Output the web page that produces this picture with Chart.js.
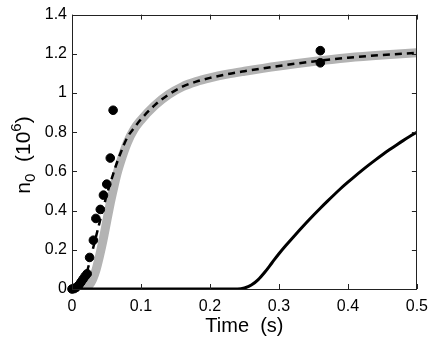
<!DOCTYPE html>
<html>
<head>
<meta charset="utf-8">
<script src="https://cdn.jsdelivr.net/npm/chart.js@4/dist/chart.umd.min.js"></script>
<style>
  html, body { margin: 0; padding: 0; background: #fff; }
  #wrap { width: 436px; height: 338px; }
</style>
</head>
<body>
<div id="wrap"><canvas id="n0Chart" width="436" height="338"></canvas></div>
<script>
// tick labels
const xTicks = [0, 0.1, 0.2, 0.3, 0.4, 0.5];
const yTicks = [0, 0.2, 0.4, 0.6, 0.8, 1, 1.2, 1.4];

// measured points (s, 10^6)
const dataT = [0, 0.003, 0.006, 0.01, 0.013, 0.016, 0.019, 0.022, 0.0255, 0.031, 0.0346, 0.041, 0.0456, 0.0504, 0.0555, 0.0596, 0.36, 0.36];
const dataN = [0, 0.002, 0.008, 0.02, 0.035, 0.05, 0.065, 0.078, 0.161, 0.249, 0.36, 0.406, 0.479, 0.535, 0.668, 0.912, 1.216, 1.154];

// dashed model curve
const fitT = [0, 0.005, 0.01, 0.015, 0.02, 0.025, 0.03, 0.035, 0.04, 0.045, 0.05, 0.055, 0.06, 0.065, 0.07, 0.08, 0.09, 0.1, 0.12, 0.14, 0.16, 0.18, 0.2, 0.225, 0.25, 0.3, 0.35, 0.4, 0.45, 0.5];
const fitN = [0, 0.004, 0.015, 0.037, 0.07, 0.13, 0.2, 0.27, 0.34, 0.41, 0.475, 0.535, 0.59, 0.643, 0.69, 0.772, 0.822, 0.866, 0.938, 0.992, 1.032, 1.058, 1.077, 1.096, 1.111, 1.138, 1.161, 1.18, 1.194, 1.205];

// grey band curve
const bandT = [0, 0.015, 0.02, 0.025, 0.03, 0.035, 0.04, 0.045, 0.05, 0.055, 0.06, 0.065, 0.07, 0.08, 0.09, 0.1, 0.12, 0.14, 0.16, 0.18, 0.2, 0.225, 0.25, 0.3, 0.35, 0.4, 0.45, 0.5];
const bandN = [0, 0, 0.005, 0.02, 0.05, 0.1, 0.17, 0.25, 0.34, 0.43, 0.51, 0.585, 0.645, 0.745, 0.815, 0.862, 0.936, 0.992, 1.032, 1.058, 1.077, 1.096, 1.111, 1.138, 1.161, 1.18, 1.194, 1.205];

// delayed solid curve
const lateT = [0, 0.22, 0.24, 0.25, 0.26, 0.27, 0.28, 0.29, 0.3, 0.31, 0.32, 0.33, 0.34, 0.35, 0.36, 0.37, 0.38, 0.39, 0.4, 0.41, 0.42, 0.43, 0.44, 0.45, 0.46, 0.47, 0.48, 0.49, 0.5];
const lateN = [0, 0, 0, 0.005, 0.02, 0.048, 0.088, 0.134, 0.18, 0.222, 0.262, 0.301, 0.339, 0.376, 0.412, 0.447, 0.481, 0.514, 0.545, 0.575, 0.604, 0.632, 0.659, 0.685, 0.71, 0.734, 0.757, 0.779, 0.8];

const pts = (ts, ns) => ts.map((t, i) => ({ x: t, y: ns[i] }));

const AXIS_FONT = 'Liberation Sans, Arial, Helvetica, sans-serif';

// draws the box, inward ticks and axis titles
const frame = {
    id: 'frame',
    afterDraw(chart) {
        const ctx = chart.ctx;
        const a = chart.chartArea;
        const xs = chart.scales.x, ys = chart.scales.y;
        ctx.save();
        ctx.strokeStyle = '#222';
        ctx.lineWidth = 1;
        ctx.strokeRect(Math.round(a.left) + 0.5, Math.round(a.top) + 0.5,
            Math.round(a.right - a.left) - 1, Math.round(a.bottom - a.top));
        ctx.beginPath();
        xTicks.forEach(v => {
            const px = Math.round(xs.getPixelForValue(v)) + 0.5;
            ctx.moveTo(px, a.bottom); ctx.lineTo(px, a.bottom - 5);
            ctx.moveTo(px, a.top); ctx.lineTo(px, a.top + 5);
        });
        yTicks.forEach(v => {
            const py = Math.round(ys.getPixelForValue(v)) + 0.5;
            ctx.moveTo(a.left, py); ctx.lineTo(a.left + 5, py);
            ctx.moveTo(a.right, py); ctx.lineTo(a.right - 5, py);
        });
        ctx.stroke();

        ctx.fillStyle = '#000';
        ctx.font = '20px ' + AXIS_FONT;
        ctx.textAlign = 'center';
        ctx.textBaseline = 'middle';
        ctx.fillText('Time  (s)', (a.left + a.right) / 2, 326);

        // y title: n_0  (10^6), rotated
        ctx.translate(23, 155);
        ctx.rotate(-Math.PI / 2);
        const big = '21px ' + AXIS_FONT, small = '15px ' + AXIS_FONT;
        const parts = [
            { s: 'n', f: big, dy: 0 },
            { s: '0', f: small, dy: 5 },
            { s: '  (10', f: big, dy: 0 },
            { s: '6', f: small, dy: -9 },
            { s: ')', f: big, dy: 0 }
        ];
        let w = 0;
        parts.forEach(p => { ctx.font = p.f; w += ctx.measureText(p.s).width; });
        let x = -w / 2;
        ctx.textAlign = 'left';
        ctx.textBaseline = 'alphabetic';
        parts.forEach(p => {
            ctx.font = p.f;
            ctx.fillText(p.s, x, 7 + p.dy);
            x += ctx.measureText(p.s).width;
        });
        ctx.restore();
    }
};

const ctx = document.getElementById('n0Chart').getContext('2d');
new Chart(ctx, {
    type: 'scatter',
    data: {
        datasets: [{
            type: 'line',
            data: pts(bandT, bandN),
            borderColor: '#b3b3b3',
            borderWidth: 9,
            pointRadius: 0,
            cubicInterpolationMode: 'monotone',
            clip: 0,
            order: 4
        }, {
            type: 'line',
            data: pts(fitT, fitN),
            borderColor: '#000',
            borderWidth: 2.5,
            borderDash: [7, 5],
            pointRadius: 0,
            cubicInterpolationMode: 'monotone',
            clip: 0,
            order: 3
        }, {
            type: 'line',
            data: pts(lateT, lateN),
            borderColor: '#000',
            borderWidth: 3,
            pointRadius: 0,
            cubicInterpolationMode: 'monotone',
            clip: 0,
            order: 2
        }, {
            data: pts(dataT, dataN),
            backgroundColor: '#000',
            borderColor: '#000',
            pointRadius: 4.3,
            clip: false,
            order: 1
        }]
    },
    options: {
        responsive: false,
        animation: false,
        layout: { padding: { top: 14, right: 17, left: 0, bottom: 0 } },
        plugins: {
            legend: { display: false },
            tooltip: { enabled: false }
        },
        scales: {
            x: {
                type: 'linear',
                min: 0,
                max: 0.5,
                afterBuildTicks: s => { s.ticks = xTicks.map(v => ({ value: v })); },
                afterFit: s => { s.height = 49; },
                grid: { display: false, drawTicks: false },
                border: { display: false },
                ticks: {
                    padding: 8,
                    color: '#000',
                    font: { family: AXIS_FONT, size: 16 },
                    maxRotation: 0,
                    callback: v => String(v)
                }
            },
            y: {
                min: 0,
                max: 1.4,
                afterBuildTicks: s => { s.ticks = yTicks.map(v => ({ value: v })); },
                afterFit: s => { s.width = 72; },
                grid: { display: false, drawTicks: false },
                border: { display: false },
                ticks: {
                    padding: 5,
                    color: '#000',
                    font: { family: AXIS_FONT, size: 16 },
                    callback: v => String(v)
                }
            }
        }
    },
    plugins: [frame]
});
</script>
</body>
</html>
